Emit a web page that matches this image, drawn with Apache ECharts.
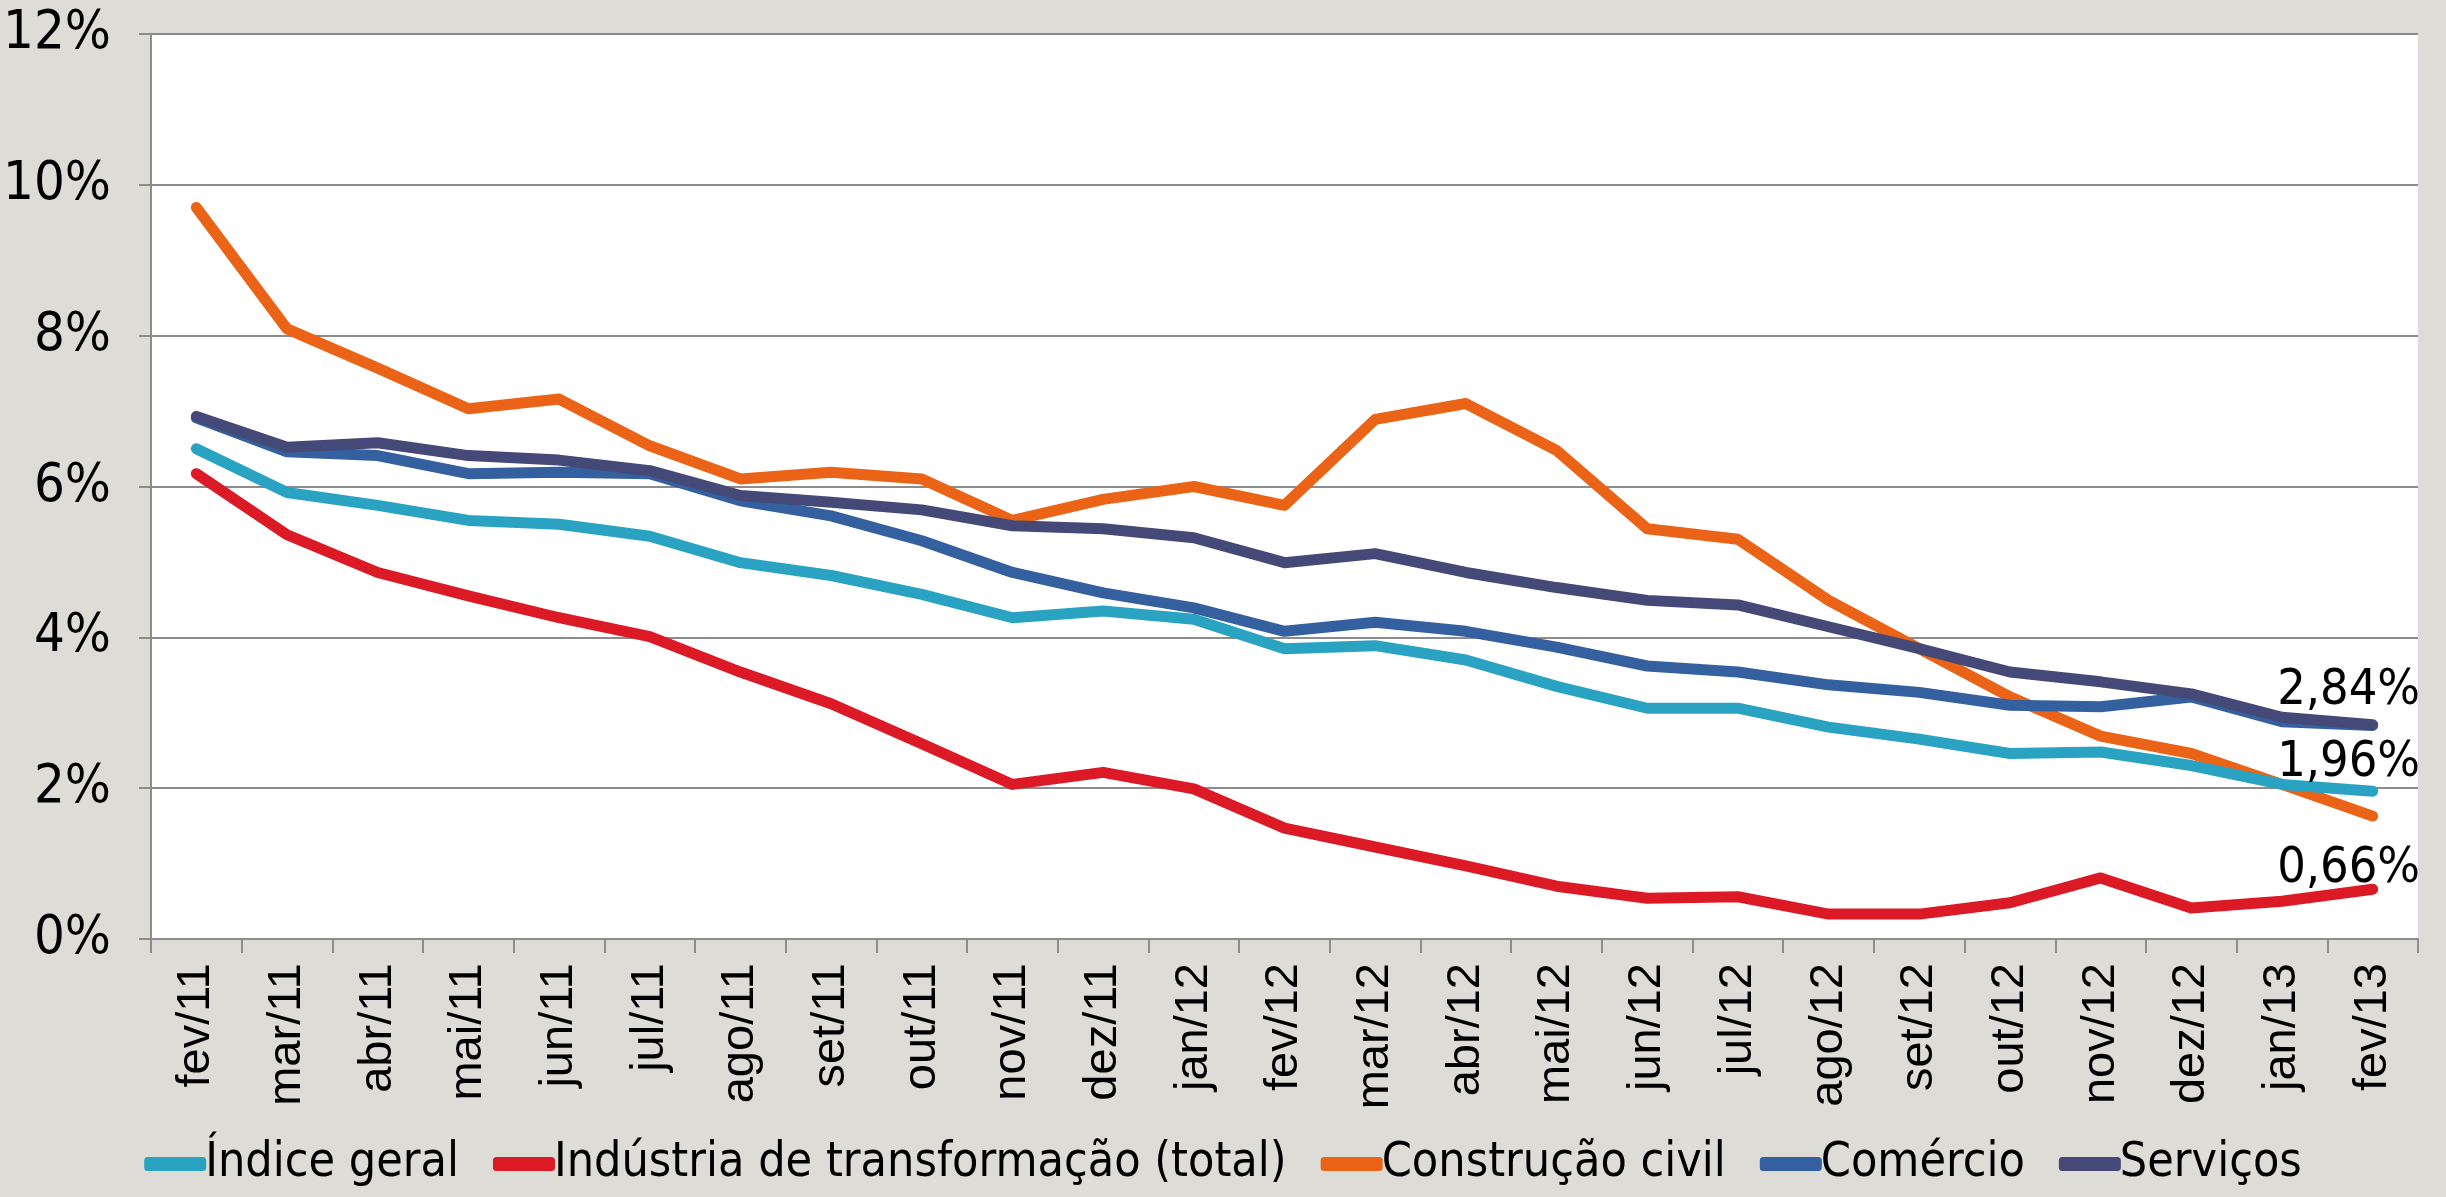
<!DOCTYPE html>
<html>
<head>
<meta charset="utf-8">
<title>Chart</title>
<script src="https://cdn.jsdelivr.net/npm/echarts@6/dist/echarts.min.js"></script>
<style>
  html, body { margin: 0; padding: 0; background: #dedcd6; }
  #chart { width: 2446px; height: 1197px; }
</style>
</head>
<body>
<div id="chart"></div>
<script>
// months (x axis)
var months = ['fev/11', 'mar/11', 'abr/11', 'mai/11', 'jun/11', 'jul/11', 'ago/11', 'set/11', 'out/11',
  'nov/11', 'dez/11', 'jan/12', 'fev/12', 'mar/12', 'abr/12', 'mai/12', 'jun/12', 'jul/12', 'ago/12',
  'set/12', 'out/12', 'nov/12', 'dez/12', 'jan/13', 'fev/13'];

// values in %
var indiceGeral = [6.50, 5.92, 5.75, 5.55, 5.50, 5.34, 4.99, 4.82, 4.57, 4.26, 4.35, 4.24, 3.85, 3.89,
  3.70, 3.35, 3.06, 3.06, 2.81, 2.65, 2.46, 2.48, 2.30, 2.05, 1.96];
var industria = [6.17, 5.36, 4.86, 4.55, 4.26, 4.01, 3.54, 3.12, 2.59, 2.05, 2.21, 1.99, 1.47, 1.22,
  0.97, 0.70, 0.54, 0.56, 0.33, 0.33, 0.48, 0.81, 0.41, 0.50, 0.66];
var construcao = [9.70, 8.09, 7.57, 7.03, 7.16, 6.54, 6.10, 6.19, 6.10, 5.55, 5.83, 6.00, 5.75, 6.89,
  7.10, 6.48, 5.44, 5.30, 4.49, 3.85, 3.21, 2.69, 2.46, 2.05, 1.63];
var comercio = [6.91, 6.46, 6.41, 6.17, 6.19, 6.17, 5.81, 5.61, 5.28, 4.86, 4.59, 4.39, 4.08, 4.20,
  4.08, 3.87, 3.62, 3.54, 3.37, 3.27, 3.10, 3.08, 3.21, 2.88, 2.83];
var servicos = [6.93, 6.52, 6.58, 6.41, 6.35, 6.21, 5.88, 5.79, 5.69, 5.48, 5.44, 5.32, 4.99, 5.11,
  4.86, 4.66, 4.49, 4.43, 4.14, 3.85, 3.54, 3.41, 3.25, 2.94, 2.84];

var yTicks = [0, 2, 4, 6, 8, 10, 12];

var narrow = "'Liberation Sans Narrow', 'Arial Narrow', 'DejaVu Sans Condensed', sans-serif";

function line(name, data, color, z, labelDy) {
  var s = {
    name: name,
    type: 'line',
    data: data,
    symbol: 'none',
    z: z,
    lineStyle: { color: color, width: 11, cap: 'round', join: 'round' },
    itemStyle: { color: color }
  };
  if (labelDy !== null) {
    // value label at the last month
    s.endLabel = {
      show: true,
      distance: 0,
      align: 'center',
      verticalAlign: 'middle',
      offset: [-24, labelDy],
      fontFamily: narrow,
      fontSize: 50,
      color: '#000',
      formatter: function (p) { return p.value.toFixed(2).replace('.', ',') + '%'; }
    };
  }
  return s;
}

var chartDom = document.getElementById('chart');
var myChart = echarts.init(chartDom);
var option;

option = {
  animation: false,
  backgroundColor: '#dedcd6',
  grid: {
    left: 151,
    right: 28,
    top: 34,
    bottom: 258,
    show: true,
    backgroundColor: '#ffffff',
    borderWidth: 0
  },
  legend: {
    bottom: 4,
    left: 'center',
    itemWidth: 62,
    itemHeight: 14,
    itemGap: 34,
    icon: 'roundRect',
    textStyle: { fontFamily: narrow, fontSize: 48, color: '#000', padding: [0, 0, 0, -6] },
    data: ['Índice geral', 'Indústria de transformação (total)', 'Construção civil', 'Comércio', 'Serviços']
  },
  xAxis: {
    type: 'category',
    data: months,
    boundaryGap: true,
    axisLine: { lineStyle: { color: '#8c8c8c', width: 2 } },
    axisTick: { show: true, length: 14, lineStyle: { color: '#8c8c8c', width: 2 } },
    axisLabel: {
      rotate: 90,
      margin: 24,
      interval: 0,
      fontFamily: "'Liberation Sans', Arial, sans-serif",
      fontSize: 47,
      color: '#000'
    }
  },
  yAxis: {
    type: 'value',
    min: yTicks[0],
    max: yTicks[yTicks.length - 1],
    interval: 2,
    axisLine: { show: true, lineStyle: { color: '#8c8c8c', width: 2 } },
    axisTick: { show: true, length: 12, lineStyle: { color: '#8c8c8c', width: 2 } },
    splitLine: { lineStyle: { color: '#8c8c8c', width: 2 } },
    axisLabel: {
      margin: 40,
      fontFamily: narrow,
      fontSize: 54,
      color: '#000',
      formatter: '{value}%'
    }
  },
  series: [
    line('Índice geral', indiceGeral, '#2aa3c3', 5, -28),
    line('Indústria de transformação (total)', industria, '#dc1a25', 4, -20),
    line('Construção civil', construcao, '#ea6316', 3, null),
    line('Comércio', comercio, '#35609f', 6, null),
    line('Serviços', servicos, '#454977', 7, -34)
  ]
};

option && myChart.setOption(option);
</script>
</body>
</html>
